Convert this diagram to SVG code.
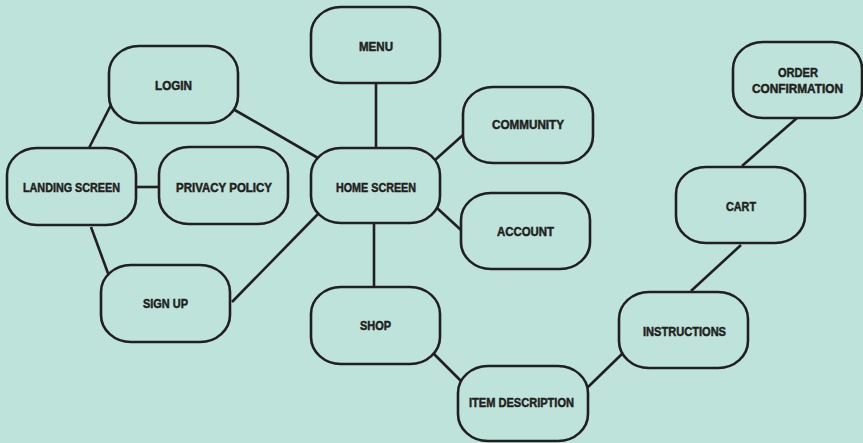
<svg xmlns="http://www.w3.org/2000/svg" width="863" height="443" viewBox="0 0 863 443">
<style>
.n rect{fill:#bde3da;stroke:#231f20;stroke-width:2.6}
.n text{font-family:"Liberation Sans",Arial,sans-serif;font-weight:bold;font-size:13px;fill:#231f20;stroke:#231f20;stroke-width:0.5;text-anchor:middle}
#edges line{stroke:#231f20;stroke-width:2.6;fill:none}
</style>
<rect width="863" height="443" fill="#bde3da"/>
<g id="edges">
<line x1="112" y1="103" x2="89" y2="148"/>
<line x1="233" y1="109" x2="318" y2="158"/>
<line x1="136" y1="187" x2="159" y2="187"/>
<line x1="91" y1="227" x2="109" y2="276"/>
<line x1="232" y1="302" x2="318" y2="214"/>
<line x1="376" y1="83" x2="376" y2="148"/>
<line x1="435" y1="160" x2="463" y2="135"/>
<line x1="437" y1="208" x2="461" y2="230"/>
<line x1="374" y1="223" x2="374" y2="287"/>
<line x1="433" y1="353" x2="463" y2="383"/>
<line x1="587" y1="388" x2="623" y2="353"/>
<line x1="691" y1="291" x2="741" y2="245"/>
<line x1="742" y1="166" x2="797" y2="118"/>
</g>
<g id="login" class="n"><rect x="109" y="46" width="129" height="77" rx="30" ry="27"/><text x="173.5" y="89.5" textLength="37" lengthAdjust="spacingAndGlyphs">LOGIN</text></g>
<g id="landing" class="n"><rect x="7" y="148" width="129" height="77" rx="30" ry="27"/><text x="71.5" y="191.5" textLength="97" lengthAdjust="spacingAndGlyphs">LANDING SCREEN</text></g>
<g id="privacy" class="n"><rect x="159" y="147" width="129" height="77" rx="30" ry="27"/><text x="224" y="191.5" textLength="96" lengthAdjust="spacingAndGlyphs">PRIVACY POLICY</text></g>
<g id="signup" class="n"><rect x="101" y="265" width="129" height="77" rx="30" ry="27"/><text x="165.5" y="307.5" textLength="45" lengthAdjust="spacingAndGlyphs">SIGN UP</text></g>
<g id="menu" class="n"><rect x="311" y="7" width="129" height="76" rx="30" ry="27"/><text x="376" y="50.5" textLength="34" lengthAdjust="spacingAndGlyphs">MENU</text></g>
<g id="home" class="n"><rect x="311" y="148" width="129" height="75" rx="30" ry="27"/><text x="376" y="191.5" textLength="80" lengthAdjust="spacingAndGlyphs">HOME SCREEN</text></g>
<g id="community" class="n"><rect x="463" y="87" width="130" height="76" rx="30" ry="27"/><text x="528" y="128.5" textLength="72" lengthAdjust="spacingAndGlyphs">COMMUNITY</text></g>
<g id="account" class="n"><rect x="461" y="193" width="129" height="76" rx="30" ry="27"/><text x="525.5" y="235.5" textLength="57" lengthAdjust="spacingAndGlyphs">ACCOUNT</text></g>
<g id="shop" class="n"><rect x="311" y="287" width="129" height="77" rx="30" ry="27"/><text x="375.5" y="329.5" textLength="31" lengthAdjust="spacingAndGlyphs">SHOP</text></g>
<g id="item" class="n"><rect x="458" y="366" width="130" height="75" rx="30" ry="27"/><text x="521.5" y="406.5" textLength="105" lengthAdjust="spacingAndGlyphs">ITEM DESCRIPTION</text></g>
<g id="instructions" class="n"><rect x="619" y="292" width="129" height="76" rx="30" ry="27"/><text x="684.5" y="335.5" textLength="83" lengthAdjust="spacingAndGlyphs">INSTRUCTIONS</text></g>
<g id="cart" class="n"><rect x="676" y="167" width="129" height="76" rx="30" ry="27"/><text x="741" y="210.5" textLength="30" lengthAdjust="spacingAndGlyphs">CART</text></g>
<g id="order" class="n"><rect x="733" y="42" width="129" height="76" rx="30" ry="27"/><text x="798" y="76.5" textLength="40" lengthAdjust="spacingAndGlyphs">ORDER</text><text x="797.5" y="92.5" textLength="91" lengthAdjust="spacingAndGlyphs">CONFIRMATION</text></g>
</svg>
